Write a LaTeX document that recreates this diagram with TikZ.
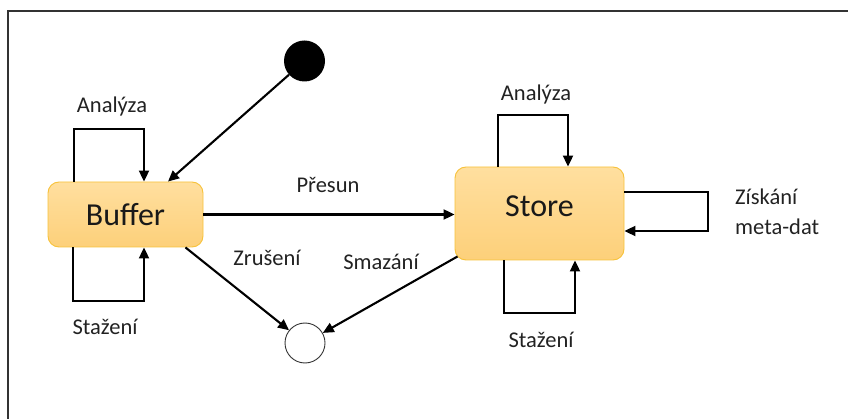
\documentclass[tikz,border=0pt]{standalone}
\usepackage{fontspec}
\setmainfont{Carlito}
\usetikzlibrary{arrows.meta,calc}
\definecolor{boxtop}{HTML}{FFDF9F}
\definecolor{boxbot}{HTML}{FDD07A}
\definecolor{boxedge}{HTML}{F7C23A}
\definecolor{txt}{HTML}{222222}
\tikzset{
  statebox/.style={rounded corners=11pt, top color=boxtop, bottom color=boxbot, draw=boxedge, line width=0.9pt,
    font=\fontsize{32}{38}\selectfont, text=black!90, inner sep=0pt},
  boxtext/.style={font=\fontsize{32}{38}\selectfont, text=black!90, inner sep=0pt},
  arr/.style={line width=2.1pt, -{Triangle[length=11pt,width=10pt]}},
  lbl/.style={font=\fontsize{22.5}{30}\selectfont, text=txt, inner sep=0pt},
  frameline/.style={line width=1.5pt, draw=black!80},
}
\begin{document}
\begin{tikzpicture}[x=1pt,y=-1pt]
\useasboundingbox (0,0) rectangle (848,419);
\draw[frameline] (848,11) -- (8,11) -- (8,419);

% states
\node[statebox, minimum width=155pt, minimum height=65pt] (buf) at (125.5,214.5) {Buffer};
\node[statebox, minimum width=169pt, minimum height=93pt] (store) at (539.5,213.5) {};
\node[boxtext] (storetxt) at ([yshift=7pt]store.center) {Store};
\node[circle, fill=black, minimum size=41pt, inner sep=0pt] (init) at (304.5,61) {};
\node[circle, draw=black!80, line width=0.9pt, fill=white, minimum size=40pt, inner sep=0pt] (fin) at (305,343) {};

% helper coordinates
\coordinate (bA1) at (74,129);
\coordinate (bA2) at (144,129);
\coordinate (bS1) at (73,301);
\coordinate (bS2) at (144,301);
\coordinate (sA1) at (498,115);
\coordinate (sA2) at (568,115);
\coordinate (sS1) at (504,313);
\coordinate (sS2) at (575,313);
\coordinate (sZ1) at (708,192);
\coordinate (sZ2) at (708,231);
\coordinate (iT) at (168,0);

% connectors
\draw[arr] (init) -- (buf.north -| iT);
\draw[arr] (buf.north -| bA1) -- (bA1) -- (bA2) -- (buf.north -| bA2);
\draw[arr] (buf.south -| bS1) -- (bS1) -- (bS2) -- (buf.south -| bS2);
\draw[arr] (buf.east) -- (store.west |- buf.east);
\draw[arr] ([xshift=-18pt]buf.south east) -- (fin);
\draw[arr] ([shift={(3,-4)}]store.south west) -- (fin);
\draw[arr] (store.north -| sA1) -- (sA1) -- (sA2) -- (store.north -| sA2);
\draw[arr] (store.south -| sS1) -- (sS1) -- (sS2) -- (store.south -| sS2);
\draw[arr] (store.east |- sZ1) -- (sZ1) -- (sZ2) -- (store.east |- sZ2);

% labels
\node[lbl] (l1) at (112,107) {Analýza};
\node[lbl] (l2) at (105,327) {Stažení};
\node[lbl] (l3) at (328,185) {Přesun};
\node[lbl] (l4) at (267,258) {Zrušení};
\node[lbl] (l5) at (381,262) {Smazání};
\node[lbl] (l6) at (536,95) {Analýza};
\node[lbl] (l7) at (541,340) {Stažení};
\node[lbl, align=left, anchor=west] (l8) at (735,212) {Získání\\meta-dat};
\end{tikzpicture}
\end{document}
